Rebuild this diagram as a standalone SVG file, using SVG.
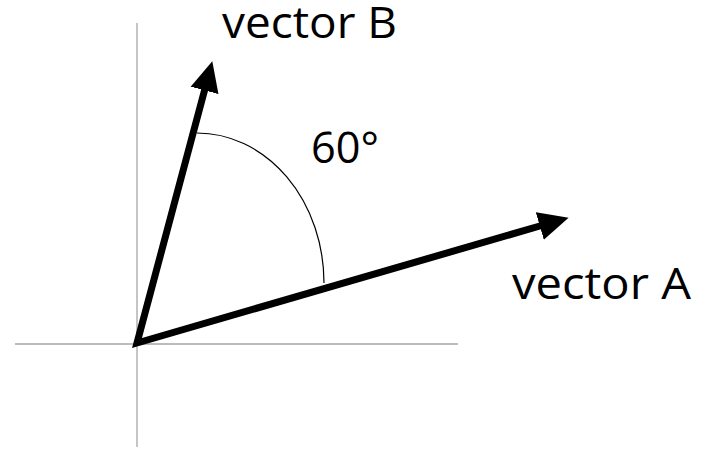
<svg xmlns="http://www.w3.org/2000/svg" width="715" height="452" viewBox="0 0 715 452">
<style>
.axis{stroke:#a6a6a6;stroke-width:1.3;fill:none}
.vec{stroke:#000;stroke-width:7;fill:none;stroke-linejoin:miter}
.arc{stroke:#000;stroke-width:1.2;fill:none}
.lbl{font-family:"Open Sans","Liberation Sans",sans-serif;font-size:43px;fill:#000}
</style>
<defs>
<marker id="ah" markerUnits="userSpaceOnUse" markerWidth="30" markerHeight="30" viewBox="0 -12 25 24" refX="6" refY="0" orient="auto-start-reverse">
<path d="M0,-12 L25,0 L0,12 z" fill="#000"/>
</marker>
</defs>
<g id="axes">
<line class="axis" x1="137" y1="23" x2="137" y2="447"/>
<line class="axis" x1="15" y1="344" x2="458" y2="344"/>
</g>
<g id="connectors">
<path class="vec" d="M206.4,83.4 L137,343 L546.7,224" marker-start="url(#ah)" marker-end="url(#ah)"/>
<path class="arc" d="M197,133 A127,150 0 0 1 324,283"/>
</g>
<g id="label-b"><text class="lbl" x="222" y="38" textLength="175" lengthAdjust="spacingAndGlyphs">vector B</text></g>
<g id="label-angle"><text class="lbl" x="311" y="163" textLength="68" lengthAdjust="spacingAndGlyphs">60°</text></g>
<g id="label-a"><text class="lbl" x="512" y="299" textLength="179" lengthAdjust="spacingAndGlyphs">vector A</text></g>
</svg>
